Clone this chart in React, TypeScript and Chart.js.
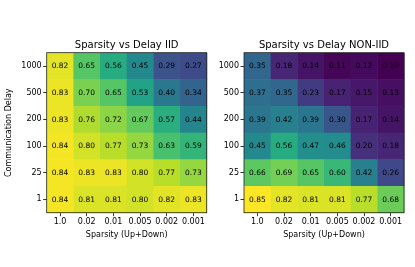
import React, { useEffect, useRef } from 'react';
import { Chart, registerables } from 'chart.js';

Chart.register(...registerables);

const sparsityLabels = ['1.0', '0.02', '0.01', '0.005', '0.002', '0.001'];
const delayLabels = ['1000', '500', '200', '100', '25', '1'];

// rows top-to-bottom follow delayLabels, columns follow sparsityLabels
const iidValues = [
  [0.82, 0.65, 0.56, 0.45, 0.29, 0.27],
  [0.83, 0.70, 0.65, 0.53, 0.40, 0.34],
  [0.83, 0.76, 0.72, 0.67, 0.57, 0.44],
  [0.84, 0.80, 0.77, 0.73, 0.63, 0.59],
  [0.84, 0.83, 0.83, 0.80, 0.77, 0.73],
  [0.84, 0.81, 0.81, 0.80, 0.82, 0.83],
];

const nonIidValues = [
  [0.35, 0.18, 0.14, 0.11, 0.12, 0.10],
  [0.37, 0.35, 0.23, 0.17, 0.15, 0.13],
  [0.39, 0.42, 0.39, 0.30, 0.17, 0.14],
  [0.45, 0.56, 0.47, 0.46, 0.20, 0.18],
  [0.66, 0.69, 0.65, 0.60, 0.42, 0.26],
  [0.85, 0.82, 0.81, 0.81, 0.77, 0.68],
];

const VIRIDIS = [
  [68, 1, 84], [72, 36, 117], [65, 68, 135], [53, 95, 141], [42, 120, 142],
  [33, 145, 140], [34, 168, 132], [68, 191, 112], [122, 209, 81], [189, 223, 38], [253, 231, 37],
];

function viridis(t: number): string {
  const c = Math.max(0, Math.min(1, t)) * (VIRIDIS.length - 1);
  const i = Math.min(VIRIDIS.length - 2, Math.floor(c));
  const f = c - i;
  const a = VIRIDIS[i], b = VIRIDIS[i + 1];
  const r = Math.round(a[0] + (b[0] - a[0]) * f);
  const g = Math.round(a[1] + (b[1] - a[1]) * f);
  const bl = Math.round(a[2] + (b[2] - a[2]) * f);
  return `rgb(${r},${g},${bl})`;
}

const allVals = [...iidValues.flat(), ...nonIidValues.flat()];
const VMIN = Math.min(...allVals);
const VMAX = Math.max(...allVals);

const FONT = 'DejaVu Sans';

const heatmapPlugin = {
  id: 'heatmapCells',
  beforeDatasetsDraw(chart: any) {
    const { ctx, chartArea } = chart;
    const xs = chart.scales.x, ys = chart.scales.y;
    const ds = chart.data.datasets[0];
    const pts = ds.data as { x: number; y: number; v: number }[];
    ctx.save();
    for (const p of pts) {
      const x0 = xs.getPixelForValue(p.x - 0.5), x1 = xs.getPixelForValue(p.x + 0.5);
      const y0 = ys.getPixelForValue(p.y - 0.5), y1 = ys.getPixelForValue(p.y + 0.5);
      ctx.fillStyle = viridis((p.v - VMIN) / (VMAX - VMIN));
      ctx.fillRect(Math.min(x0, x1), Math.min(y0, y1), Math.abs(x1 - x0) + 0.5, Math.abs(y1 - y0) + 0.5);
    }
    ctx.fillStyle = '#000';
    ctx.font = `7.5px "${FONT}"`;
    ctx.textAlign = 'center';
    ctx.textBaseline = 'middle';
    for (const p of pts) {
      ctx.fillText(p.v.toFixed(2), xs.getPixelForValue(p.x), ys.getPixelForValue(p.y) + 0.5);
    }
    ctx.strokeStyle = '#222';
    ctx.lineWidth = 0.8;
    ctx.strokeRect(chartArea.left, chartArea.top, chartArea.right - chartArea.left, chartArea.bottom - chartArea.top);
    // title centred over the plot
    ctx.font = `10px "${FONT}"`;
    ctx.fillText(ds.label, (chartArea.left + chartArea.right) / 2, 45);
    ctx.restore();
  },
};

function makeChart(canvas: HTMLCanvasElement, values: number[][], title: string, showYTitle: boolean, yAxisWidth: number, padRight: number) {
  const data: { x: number; y: number; v: number }[] = [];
  values.forEach((row, i) => row.forEach((v, j) => data.push({ x: j, y: i, v })));
  const tickSetter = (scale: any) => {
    scale.ticks = [0, 1, 2, 3, 4, 5].map((v) => ({ value: v }));
  };
  return new Chart(canvas, {
    type: 'scatter',
    data: { datasets: [{ label: title, data, pointRadius: 0, pointHoverRadius: 0 }] },
    options: {
      animation: false,
      responsive: false,
      events: [],
      layout: { padding: { left: 0, right: padRight, top: 52.7, bottom: 0 } },
      plugins: { legend: { display: false }, tooltip: { enabled: false }, title: { display: false } },
      scales: {
        x: {
          type: 'linear',
          min: -0.5,
          max: 5.5,
          afterBuildTicks: tickSetter,
          afterFit: (s: any) => { s.height = 54.3; },
          grid: { display: true, drawOnChartArea: false, drawTicks: true, tickLength: 3.5, color: '#000', lineWidth: 0.8 },
          border: { display: false },
          ticks: {
            autoSkip: false, maxRotation: 0, minRotation: 0, padding: 1, color: '#000',
            font: { family: FONT, size: 8 },
            callback: (v: any) => sparsityLabels[v as number],
          },
          title: { display: true, text: 'Sparsity (Up+Down)', color: '#000', font: { family: FONT, size: 8 }, padding: { top: 0, bottom: 27.2 } },
        },
        y: {
          type: 'linear',
          reverse: true,
          min: -0.5,
          max: 5.5,
          afterBuildTicks: tickSetter,
          afterFit: (s: any) => { s.width = yAxisWidth; },
          grid: { display: true, drawOnChartArea: false, drawTicks: true, tickLength: 3.5, color: '#000', lineWidth: 0.8 },
          border: { display: false },
          ticks: {
            autoSkip: false, padding: 1.5, color: '#000',
            font: { family: FONT, size: 8 },
            callback: (v: any) => delayLabels[v as number],
          },
          title: { display: showYTitle, text: 'Communication Delay', color: '#000', font: { family: FONT, size: 8 }, padding: { top: 4, bottom: 0 } },
        },
      },
    },
    plugins: [heatmapPlugin],
  } as any);
}

export default function App() {
  const leftRef = useRef<HTMLCanvasElement>(null);
  const rightRef = useRef<HTMLCanvasElement>(null);
  useEffect(() => {
    const c1 = makeChart(leftRef.current!, iidValues, 'Sparsity vs Delay IID', true, 46.7, 5.3);
    const c2 = makeChart(rightRef.current!, nonIidValues, 'Sparsity vs Delay NON-IID', false, 32, 11);
    return () => { c1.destroy(); c2.destroy(); };
  }, []);
  return (
    <div style={{ position: 'fixed', left: 0, top: 0, width: 415, height: 267, background: '#fff' }}>
      <canvas ref={leftRef} width={212} height={267} style={{ position: 'absolute', left: 0, top: 0, width: 212, height: 267 }} />
      <canvas ref={rightRef} width={203} height={267} style={{ position: 'absolute', left: 212, top: 0, width: 203, height: 267 }} />
    </div>
  );
}
